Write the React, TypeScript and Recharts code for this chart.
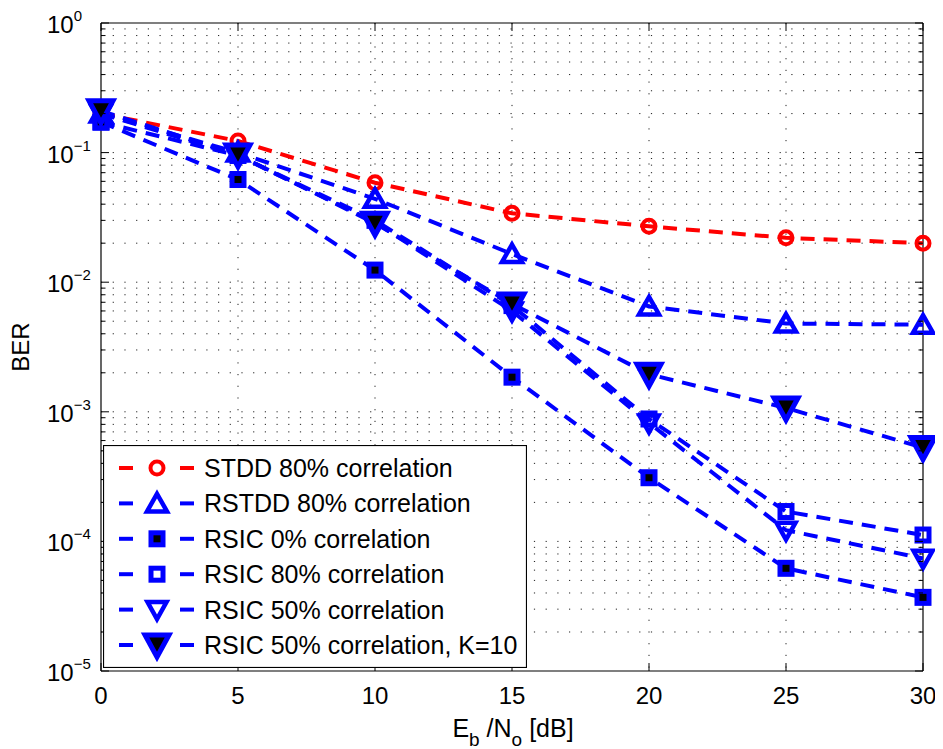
import React from 'react';
import { LineChart, Line, XAxis, YAxis, CartesianGrid, Legend, ReferenceLine } from 'recharts';

// ---- data ----
const ebno = [0, 5, 10, 15, 20, 25, 30];
const stdd80 = [0.2, 0.123, 0.0585, 0.034, 0.027, 0.022, 0.02];
const rstdd80 = [0.2, 0.1, 0.044, 0.0165, 0.0065, 0.0048, 0.0047];
const rsic0 = [0.172, 0.062, 0.0124, 0.00185, 0.00031, 0.000062, 0.000037];
const rsic80 = [0.172, 0.095, 0.03, 0.0066, 0.00088, 0.00017, 0.000112];
const rsic50 = [0.2, 0.095, 0.029, 0.006, 0.00082, 0.000122, 0.000074];
const rsic50k10 = [0.21, 0.096, 0.0285, 0.0068, 0.00195, 0.00107, 0.00053];

const xTicks = [0, 5, 10, 15, 20, 25, 30];
const yMajor = [1e-5, 1e-4, 1e-3, 1e-2, 1e-1, 1];
const yExponents = ['−5', '−4', '−3', '−2', '−1', '0'];
const seriesNames = [
  'STDD 80% correlation',
  'RSTDD 80% correlation',
  'RSIC 0% correlation',
  'RSIC 80% correlation',
  'RSIC 50% correlation',
  'RSIC 50% correlation, K=10',
];

const yAll: number[] = [];
for (let e = -5; e < 0; e++) {
  for (let m = 1; m <= 9; m++) yAll.push(+(m * Math.pow(10, e)).toPrecision(3));
}
yAll.push(1);

const data = ebno.map((x, i) => ({
  x,
  s0: stdd80[i],
  s1: rstdd80[i],
  s2: rsic0[i],
  s3: rsic80[i],
  s4: rsic50[i],
  s5: rsic50k10[i],
}));

// ---- layout / style ----
const W = 935;
const H = 741;
const MARGIN = { top: 15, right: 20, bottom: 18, left: 0 };
const YW = 93;
const XH = 60;
const PL = MARGIN.left + YW;
const PR = W - MARGIN.right;
const PT = MARGIN.top;
const PB = H - MARGIN.bottom - XH;
const RED = '#ff0000';
const BLUE = '#0000ff';
const FONT = 'Liberation Sans, Arial, Helvetica, sans-serif';

type MP = { cx: number; cy: number };

const MCircle = ({ cx, cy }: MP) => (
  <circle cx={cx} cy={cy} r={6.5} fill="none" stroke={RED} strokeWidth={4} />
);
const MTriUp = ({ cx, cy }: MP) => (
  <polygon
    points={`${cx},${cy - 9.5} ${cx + 10},${cy + 8} ${cx - 10},${cy + 8}`}
    fill="none"
    stroke={BLUE}
    strokeWidth={4.5}
  />
);
const MSqFilled = ({ cx, cy }: MP) => (
  <rect x={cx - 6} y={cy - 6} width={12} height={12} fill="#000" stroke={BLUE} strokeWidth={5} />
);
const MSqOpen = ({ cx, cy }: MP) => (
  <rect x={cx - 6} y={cy - 6} width={12} height={12} fill="none" stroke={BLUE} strokeWidth={5} />
);
const MTriDown = ({ cx, cy }: MP) => (
  <polygon
    points={`${cx - 9.5},${cy - 7.5} ${cx + 9.5},${cy - 7.5} ${cx},${cy + 9.5}`}
    fill="none"
    stroke={BLUE}
    strokeWidth={4.5}
  />
);
const MTriDownBig = ({ cx, cy }: MP) => (
  <polygon
    points={`${cx - 12},${cy - 10} ${cx + 12},${cy - 10} ${cx},${cy + 12}`}
    fill="#000"
    stroke={BLUE}
    strokeWidth={5}
  />
);

const markers = [MCircle, MTriUp, MSqFilled, MSqOpen, MTriDown, MTriDownBig];
const colors = [RED, BLUE, BLUE, BLUE, BLUE, BLUE];
const keys = ['s0', 's1', 's2', 's3', 's4', 's5'];

const makeDot = (idx: number) => (props: any) => {
  const M = markers[idx];
  if (props.cx == null || props.cy == null) return <g key={`d${idx}-${props.index}`} />;
  return (
    <g key={`d${idx}-${props.index}`}>
      <M cx={props.cx} cy={props.cy} />
    </g>
  );
};

const YTick = (props: any) => {
  const { y, payload } = props;
  const v = payload.value;
  const mi = yMajor.findIndex((m) => Math.abs(m - v) / m < 1e-6);
  const major = mi >= 0;
  const len = major ? 8 : 4.5;
  return (
    <g>
      <line x1={PL} x2={PL + len} y1={y} y2={y} stroke="#000" strokeWidth={1} />
      <line x1={PR - len} x2={PR} y1={y} y2={y} stroke="#000" strokeWidth={1} />
      {major && (
        <text x={39} y={y + 10} fontFamily={FONT} fontSize={24} fill="#000">
          10
          <tspan dy={-12} fontSize={15}>
            {yExponents[mi]}
          </tspan>
        </text>
      )}
    </g>
  );
};

const XTick = (props: any) => {
  const { x, payload } = props;
  return (
    <g>
      <line x1={x} x2={x} y1={PB} y2={PB - 8} stroke="#000" strokeWidth={1} />
      <line x1={x} x2={x} y1={PT} y2={PT + 8} stroke="#000" strokeWidth={1} />
      <text x={x} y={PB + 33} textAnchor="middle" fontFamily={FONT} fontSize={24} fill="#000">
        {payload.value}
      </text>
    </g>
  );
};

const LEG_W = 424;
const LEG_H = 223;
const LegendBox = () => (
  <svg width={LEG_W} height={LEG_H} style={{ display: 'block' }}>
    <rect x={0.5} y={0.5} width={LEG_W - 1} height={LEG_H - 1} fill="#fff" stroke="#000" strokeWidth={1.2} />
    {seriesNames.map((name, i) => {
      const cy = 23 + i * 35.4;
      const M = markers[i];
      return (
        <g key={name}>
          <line x1={16} x2={30} y1={cy} y2={cy} stroke={colors[i]} strokeWidth={4} />
          <line x1={77} x2={91} y1={cy} y2={cy} stroke={colors[i]} strokeWidth={4} />
          <M cx={54} cy={cy} />
          <text x={101} y={cy + 9} fontFamily={FONT} fontSize={25} fill="#000">
            {name}
          </text>
        </g>
      );
    })}
  </svg>
);

export default function App() {
  return (
    <LineChart width={W} height={H} data={data} margin={MARGIN}>
      <CartesianGrid
        horizontalValues={yAll.filter((v) => v > 1e-5 && v < 1)}
        verticalValues={[5, 10, 15, 20, 25]}
        stroke="#222"
        strokeWidth={1}
        strokeDasharray="1.2 10.5"
      />
      <XAxis
        dataKey="x"
        type="number"
        domain={[0, 30]}
        ticks={xTicks}
        interval={0}
        height={XH}
        tickSize={0}
        tickMargin={0}
        tickLine={false}
        axisLine={{ stroke: '#000', strokeWidth: 1.2 }}
        tick={<XTick />}
      />
      <YAxis
        type="number"
        scale="log"
        domain={[1e-5, 1]}
        allowDataOverflow
        ticks={yAll}
        interval={0}
        width={YW}
        tickSize={0}
        tickMargin={0}
        tickLine={false}
        axisLine={{ stroke: '#000', strokeWidth: 1.2 }}
        tick={<YTick />}
      />
      <ReferenceLine y={1} stroke="#000" strokeWidth={1.2} ifOverflow="extendDomain" />
      <ReferenceLine x={30} stroke="#000" strokeWidth={1.2} ifOverflow="extendDomain" />
      {keys.map((k, i) => (
        <Line
          key={k}
          dataKey={k}
          name={seriesNames[i]}
          type="linear"
          stroke={colors[i]}
          strokeWidth={4}
          strokeDasharray="14 9"
          dot={makeDot(i)}
          activeDot={false}
          isAnimationActive={false}
        />
      ))}
      <Legend
        layout="vertical"
        align="center"
        verticalAlign="middle"
        content={() => <LegendBox />}
        wrapperStyle={{ position: 'absolute', left: 95, top: 437, width: LEG_W, height: LEG_H }}
      />
      <text
        x={12}
        y={339}
        transform="rotate(-90 12 339)"
        textAnchor="middle"
        dominantBaseline="central"
        fontFamily={FONT}
        fontSize={24}
        fill="#000"
      >
        BER
      </text>
      <text x={505} y={729} textAnchor="middle" fontFamily={FONT} fontSize={25} fill="#000">
        E
        <tspan dy={9} fontSize={19}>b</tspan>
        <tspan dy={-9}> /N</tspan>
        <tspan dy={9} fontSize={19}>o</tspan>
        <tspan dy={-9}> [dB]</tspan>
      </text>
    </LineChart>
  );
}
